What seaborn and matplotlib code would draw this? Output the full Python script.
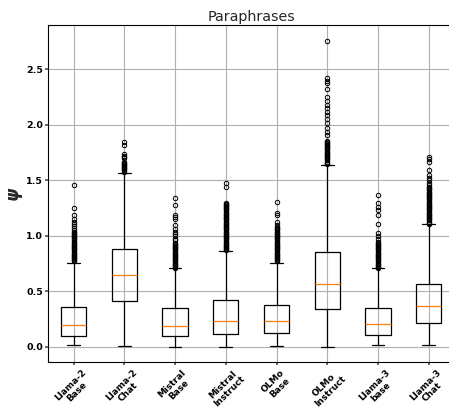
import numpy as np
import seaborn as sns
import matplotlib
matplotlib.use("Agg")
import matplotlib.pyplot as plt

# box summary values
labels = ["Llama-2\nBase", "Llama-2\nChat", "Mistral\nBase", "Mistral\nInstruct",
          "OLMo\nBase", "OLMo\nInstruct", "Llama-3\nbase", "Llama-3\nChat"]
whislo = [0.018, 0.008, 0.003, 0.003, 0.012, 0.003, 0.018, 0.018]
q1 = [0.100, 0.418, 0.100, 0.117, 0.130, 0.340, 0.111, 0.220]
med = [0.196, 0.650, 0.190, 0.232, 0.232, 0.571, 0.208, 0.367]
q3 = [0.364, 0.880, 0.350, 0.420, 0.382, 0.860, 0.350, 0.571]
whishi = [0.760, 1.570, 0.707, 0.866, 0.760, 1.643, 0.707, 1.104]

# outliers (dense runs read as closely spaced values)
fl_llama2_base = [0.77, 0.78, 0.79, 0.80, 0.81, 0.82, 0.83, 0.84, 0.85, 0.86, 0.87,
                  0.88, 0.89, 0.90, 0.91, 0.92, 0.93, 0.94, 0.95, 0.96, 0.97, 0.98,
                  0.99, 1.00, 1.01, 1.02, 1.03, 1.04, 1.05, 1.07, 1.09, 1.11, 1.13,
                  1.15, 1.19, 1.25, 1.46]
fl_llama2_chat = [1.58, 1.59, 1.60, 1.61, 1.62, 1.63, 1.64, 1.65, 1.66, 1.67,
                  1.70, 1.71, 1.72, 1.74, 1.82, 1.85]
fl_mistral_base = [0.71, 0.72, 0.73, 0.74, 0.75, 0.76, 0.77, 0.78, 0.79, 0.80, 0.81,
                   0.82, 0.83, 0.84, 0.85, 0.86, 0.87, 0.88, 0.89, 0.90, 0.91, 0.92,
                   0.93, 0.94, 0.96, 0.97, 1.00, 1.02, 1.04, 1.06, 1.10, 1.15, 1.17,
                   1.19, 1.28, 1.34]
fl_mistral_instruct = [0.87, 0.88, 0.89, 0.90, 0.91, 0.92, 0.93, 0.94, 0.95, 0.96,
                       0.97, 0.98, 0.99, 1.00, 1.01, 1.02, 1.03, 1.04, 1.05, 1.06,
                       1.07, 1.08, 1.09, 1.10, 1.11, 1.12, 1.13, 1.14, 1.15, 1.16,
                       1.17, 1.18, 1.19, 1.20, 1.21, 1.22, 1.23, 1.24, 1.25, 1.26,
                       1.27, 1.28, 1.29, 1.30, 1.44, 1.48]
fl_olmo_base = [0.77, 0.78, 0.79, 0.80, 0.81, 0.82, 0.83, 0.84, 0.85, 0.86, 0.87,
                0.88, 0.89, 0.90, 0.91, 0.92, 0.93, 0.94, 0.95, 0.96, 0.97, 0.98,
                0.99, 1.00, 1.01, 1.02, 1.03, 1.04, 1.05, 1.06, 1.07, 1.08, 1.10,
                1.13, 1.19, 1.21, 1.31]
fl_olmo_instruct = [1.65, 1.66, 1.67, 1.68, 1.69, 1.70, 1.71, 1.72, 1.73, 1.74, 1.75,
                    1.76, 1.77, 1.78, 1.79, 1.80, 1.81, 1.82, 1.83, 1.84, 1.85, 1.86,
                    1.91, 1.94, 1.97, 2.02, 2.05, 2.09, 2.12, 2.15, 2.18, 2.22, 2.25,
                    2.32, 2.38, 2.40, 2.42, 2.76]
fl_llama3_base = [0.71, 0.72, 0.73, 0.74, 0.75, 0.76, 0.77, 0.78, 0.79, 0.80, 0.81,
                  0.82, 0.83, 0.84, 0.85, 0.86, 0.87, 0.88, 0.89, 0.90, 0.91, 0.92,
                  0.93, 0.94, 0.95, 0.97, 1.00, 1.03, 1.11, 1.19, 1.23, 1.26, 1.30,
                  1.37]
fl_llama3_chat = [1.11, 1.12, 1.13, 1.14, 1.15, 1.16, 1.17, 1.18, 1.19, 1.20, 1.21,
                  1.22, 1.23, 1.24, 1.25, 1.26, 1.27, 1.28, 1.29, 1.30, 1.31, 1.32,
                  1.33, 1.34, 1.35, 1.36, 1.37, 1.38, 1.39, 1.40, 1.41, 1.42, 1.43,
                  1.44, 1.46, 1.48, 1.50, 1.52, 1.55, 1.59, 1.67, 1.69, 1.71]
fliers = [fl_llama2_base, fl_llama2_chat, fl_mistral_base, fl_mistral_instruct,
          fl_olmo_base, fl_olmo_instruct, fl_llama3_base, fl_llama3_chat]

sns.set_theme(style="whitegrid", rc={
    "axes.edgecolor": "black",
    "axes.linewidth": 0.8,
    "grid.color": "#b0b0b0",
    "grid.linewidth": 0.8,
    "xtick.bottom": True,
    "ytick.left": True,
    "xtick.color": "#555555",
    "ytick.color": "#555555",
    "xtick.major.size": 2,
    "ytick.major.size": 2,
    "xtick.major.pad": 2,
    "ytick.major.pad": 2,
    "axes.spines.right": True,
    "axes.spines.top": True,
})
plt.rcParams["font.family"] = ["DejaVu Sans"]

stats = []
for i in range(len(labels)):
    stats.append({"whislo": whislo[i], "q1": q1[i], "med": med[i], "q3": q3[i],
                  "whishi": whishi[i], "fliers": np.array(fliers[i]), "label": labels[i]})

fig = plt.figure(figsize=(4.49, 4.09), dpi=100)
ax = fig.add_axes([0.1076, 0.1142, 0.9036, 0.824])

lw = 0.9
ax.bxp(stats, widths=0.5,
       boxprops=dict(color="black", linewidth=lw),
       whiskerprops=dict(color="black", linewidth=lw),
       capprops=dict(color="black", linewidth=lw),
       medianprops=dict(color="#ff7f0e", linewidth=lw),
       flierprops=dict(marker="o", markersize=3.2, markerfacecolor="none",
                       markeredgecolor="black", markeredgewidth=0.7))

ax.set_xlim(0.5, 8.5)
ax.set_ylim(-0.138, 2.898)
ax.set_yticks([0.0, 0.5, 1.0, 1.5, 2.0, 2.5])
ax.grid(True)
ax.set_title("Paraphrases", fontsize=10.3, pad=3)
ax.set_ylabel("ψ", fontsize=12, fontweight="bold", fontstyle="italic", labelpad=3)
for lab in ax.get_yticklabels():
    lab.set_fontweight("bold")
    lab.set_fontsize(6.8)
    lab.set_color("black")
ax.set_xticks(range(1, len(labels) + 1))
ax.set_xticklabels(labels, rotation=45, fontsize=6.4, fontweight="bold", color="black",
                   linespacing=1.05)

fig.savefig("out.png", dpi=100)
